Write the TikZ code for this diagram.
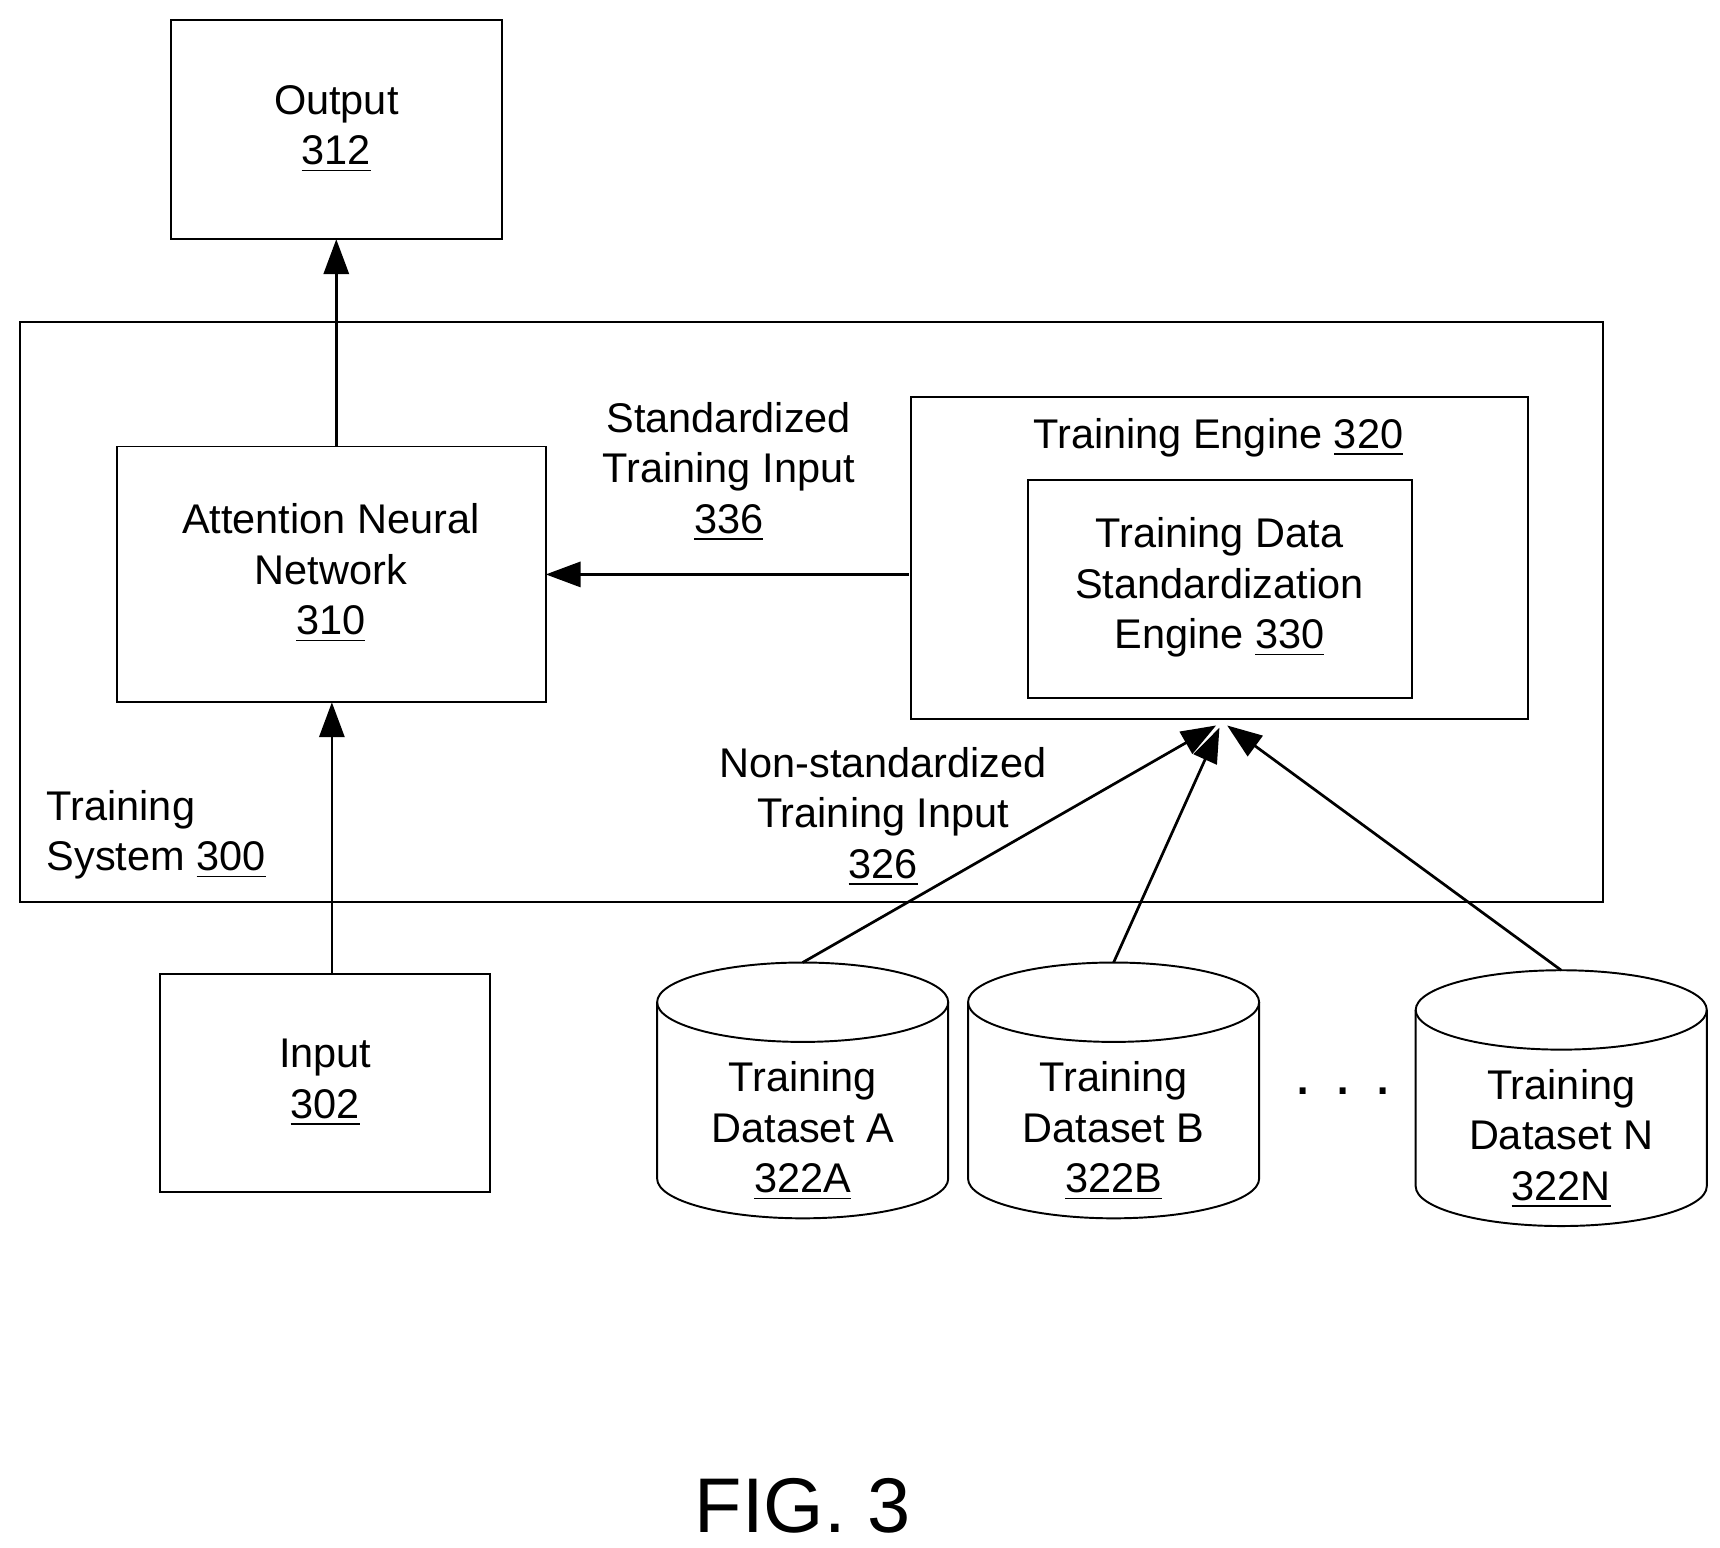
\documentclass[tikz,border=0pt]{standalone}
\usepackage{fontspec}
\setmainfont{Liberation Sans}
\usetikzlibrary{arrows.meta}
\begin{document}
\begin{tikzpicture}[x=0.01cm,y=-0.01cm,
  box/.style={draw,line width=0.5pt},
  lbl/.style={align=center,font=\fontsize{10.7}{13}\selectfont},
  arr/.style={line width=0.7pt,-{Triangle[length=9pt,width=6.5pt]}}]
\useasboundingbox (0,0) rectangle (1560,1404);
\draw[box] (155,18) rectangle (455,217);
\node[lbl] (out) at (305,117) {Output\\\underline{312}};
\coordinate (outB) at (305,217);
\draw[box] (18,292) rectangle (1454,818);
\node[lbl,align=left,anchor=west] (ts) at (30,757) {Training\\System \underline{300}};
\draw[box] (106,405) rectangle (495,637);
\node[lbl] (nn) at (300,520) {Attention Neural\\Network\\\underline{310}};
\coordinate (nnT) at (305,405);
\coordinate (nnB) at (301,637);
\coordinate (nnR) at (495,521);
\draw[box] (826,360) rectangle (1386,652);
\node[lbl] (te) at (1105,397) {Training Engine \underline{320}};
\coordinate (teL) at (824,521);
\draw[box] (932,435) rectangle (1281,633);
\node[lbl] (sde) at (1106,533) {Training Data\\Standardization\\Engine \underline{330}};
\node[lbl] (sti) at (661,428) {Standardized\\Training Input\\\underline{336}};
\node[lbl] (nsti) at (801,741) {Non-standardized\\Training Input\\\underline{326}};
\draw[box] (145,883) rectangle (444,1081);
\node[lbl] (in) at (295,982) {Input\\\underline{302}};
\coordinate (inT) at (301,883);
% cylinders
\foreach \n/\cx/\ty/\t in {A/728/873/{Training\\Dataset A\\\underline{322A}},B/1010/873/{Training\\Dataset B\\\underline{322B}},N/1416/880/{Training\\Dataset N\\\underline{322N}}}{
  \draw[box,fill=white] (\cx-132,\ty+36) -- (\cx-132,\ty+196)
    arc[start angle=180,end angle=0,x radius=132,y radius=36] -- (\cx+132,\ty+36);
  \draw[box] (\cx,\ty+36) ellipse[x radius=132,y radius=36];
  \node[lbl] (d\n) at (\cx,\ty+153) {\t};
  \coordinate (d\n T) at (\cx,\ty);
}
\node[font=\fontsize{16}{18}\selectfont] (dots) at (1218,990) {. . .};
\node[font=\fontsize{20}{24}\selectfont] (fig) at (728,1366) {FIG. 3};
\coordinate (h1) at (1103,658);
\coordinate (h2) at (1106,660);
\coordinate (h3) at (1113,658);
\draw[arr] (nnT) -- (outB);
\draw[arr] (inT) -- (nnB);
\draw[arr] (teL) -- (nnR);
\draw[arr] (dAT) -- (h1);
\draw[arr] (dBT) -- (h2);
\draw[arr] (dNT) -- (h3);
\end{tikzpicture}
\end{document}
